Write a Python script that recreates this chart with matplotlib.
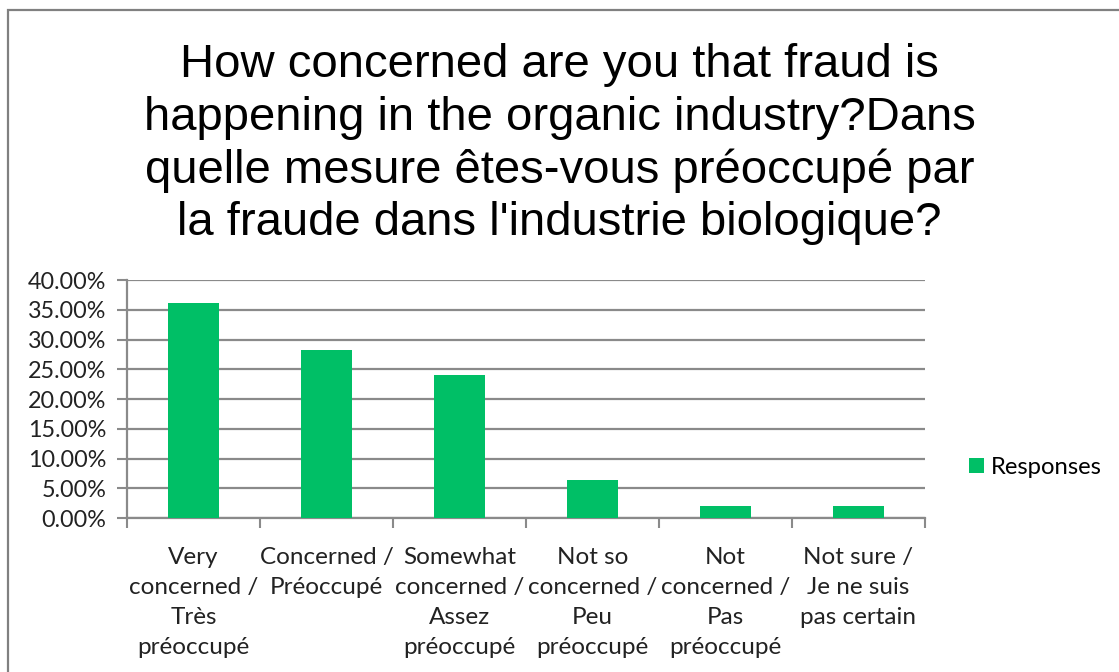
import numpy as np
import matplotlib.pyplot as plt
from matplotlib.patches import Rectangle
from matplotlib.ticker import FuncFormatter, FixedLocator

plt.rcParams['font.family'] = ['Lato', 'DejaVu Sans']

title = ("How concerned are you that fraud is\n"
         "happening in the organic industry?Dans\n"
         "quelle mesure êtes-vous préoccupé par\n"
         "la fraude dans l'industrie biologique?")

categories = ["Very\nconcerned /\nTrès\npréoccupé",
              "Concerned /\nPréoccupé",
              "Somewhat\nconcerned /\nAssez\npréoccupé",
              "Not so\nconcerned /\nPeu\npréoccupé",
              "Not\nconcerned /\nPas\npréoccupé",
              "Not sure /\nJe ne suis\npas certain"]
responses = [36.2, 28.3, 24.1, 6.4, 2.1, 2.1]
series_name = "Responses"

fig = plt.figure(figsize=(11.19, 6.72), dpi=100)
ax = fig.add_axes([0.1135, 0.229, 0.7131, 0.354])

x = np.arange(len(categories))
ax.bar(x, responses, width=0.38, color='#00BF66', label=series_name, zorder=3)

ax.set_xlim(-0.5, len(categories) - 0.5)
ax.set_ylim(0, 40)
ax.set_yticks(np.arange(0, 41, 5))
ax.yaxis.set_major_formatter(FuncFormatter(lambda v, p: "%.2f%%" % v))
ax.grid(axis='y', color='#8a8a8a', lw=1.6, zorder=0)

# category labels centered, ticks at category boundaries
ax.set_xticks(x)
ax.set_xticklabels(categories, fontsize=17.5, color='#222222', linespacing=1.52)
ax.tick_params(axis='x', length=0, pad=21)
ax.xaxis.set_minor_locator(FixedLocator(np.arange(-0.5, len(categories), 1)))
ax.tick_params(axis='x', which='minor', length=7, width=1.5, color='#8a8a8a')
ax.tick_params(axis='y', labelsize=16.8, labelcolor='#222222', length=7, width=1.5, color='#8a8a8a', pad=8)

for s in ['top', 'right']:
    ax.spines[s].set_visible(False)
for s in ['left', 'bottom']:
    ax.spines[s].set_color('#8a8a8a')
    ax.spines[s].set_linewidth(1.6)

fig.text(0.5, 0.936, title, ha='center', va='top', fontsize=34,
         family='Liberation Sans', linespacing=1.25)

leg = fig.legend(loc='center left', bbox_to_anchor=(0.847, 0.305), frameon=False,
                 fontsize=17.2, handlelength=0.6, handleheight=0.6, handletextpad=0.3)

# outer chart frame (only top and left visible in the crop)
fig.patches.append(Rectangle((8 / 1119, -0.1), 1.2, 1 - 10 / 672 + 0.1, transform=fig.transFigure,
                             fill=False, edgecolor='#808080', lw=1.6))

fig.savefig('out.png', dpi=100)
